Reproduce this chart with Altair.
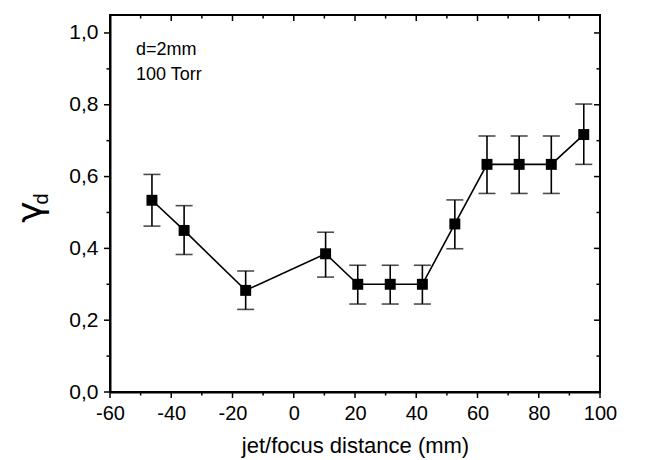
import altair as alt
import pandas as pd

# ---- data ----
x_mm = [-46.3, -35.8, -15.7, 10.4, 20.9, 31.5, 42.0, 52.6, 63.1, 73.6, 84.1, 94.7]
gamma_d = [0.534, 0.450, 0.283, 0.385, 0.300, 0.300, 0.300, 0.468, 0.634, 0.634, 0.634, 0.717]
err_hi = [0.606, 0.519, 0.337, 0.445, 0.353, 0.353, 0.353, 0.535, 0.713, 0.713, 0.713, 0.802]
err_lo = [0.462, 0.383, 0.230, 0.320, 0.245, 0.245, 0.245, 0.399, 0.553, 0.553, 0.553, 0.634]

x_ticks = [-60, -50, -40, -30, -20, -10, 0, 10, 20, 30, 40, 50, 60, 70, 80, 90, 100]
y_ticks = [0.0, 0.1, 0.2, 0.3, 0.4, 0.5, 0.6, 0.7, 0.8, 0.9, 1.0]
annotation_lines = ["d=2mm", "100 Torr"]
x_title = "jet/focus distance (mm)"
y_title_main = "γ"
y_title_sub = "d"

FONT = "Liberation Sans"
W, H = 490, 377
MAJ, MIN = 6, 3.5

df = pd.DataFrame({"x": x_mm, "y": gamma_d, "lo": err_lo, "hi": err_hi})
xt = pd.DataFrame({"t": x_ticks, "major": [v % 20 == 0 for v in x_ticks]})
yt = pd.DataFrame({"t": y_ticks, "major": [round(v * 10) % 2 == 0 for v in y_ticks]})

xscale = alt.Scale(domain=[-60, 100], nice=False, zero=False)
yscale = alt.Scale(domain=[0, 1.05], nice=False, zero=False)

x_axis = alt.Axis(
    values=x_ticks,
    labelExpr="datum.value % 20 === 0 ? '' + datum.value : ''",
    tickSize=MAJ,
    tickOpacity=0,
    labelFlush=False,
    labelOverlap=False,
    labelFontSize=20,
    labelPadding=5,
    title=x_title,
    titleFontSize=22,
    titleFontWeight="normal",
    titlePadding=12,
    grid=False,
)
y_axis = alt.Axis(
    values=y_ticks,
    labelExpr="round(datum.value * 10) % 2 === 0 ? replace(format(datum.value, '.1f'), '.', ',') : ''",
    tickSize=MAJ,
    tickOpacity=0,
    labelOverlap=False,
    labelFontSize=21,
    labelPadding=6,
    title=None,
    grid=False,
)


def X(field):
    return alt.X(field, scale=xscale, axis=x_axis, title=x_title)


def Y(field):
    return alt.Y(field, scale=yscale, axis=y_axis, title=None)


base = alt.Chart(df)

line = base.mark_line(color="black", strokeWidth=1.6).encode(x=X("x:Q"), y=Y("y:Q"))
bars = base.mark_rule(color="black", strokeWidth=1.6).encode(x=X("x:Q"), y=Y("lo:Q"), y2="hi:Q")
cap_hi = base.mark_tick(color="black", orient="horizontal", size=17, thickness=1.6).encode(
    x=X("x:Q"), y=Y("hi:Q"))
cap_lo = base.mark_tick(color="black", orient="horizontal", size=17, thickness=1.6).encode(
    x=X("x:Q"), y=Y("lo:Q"))
points = base.mark_square(color="black", size=120, opacity=1).encode(x=X("x:Q"), y=Y("y:Q"))


def xtick_layer(major, y0, y1):
    flt = "datum.major" if major else "!datum.major"
    return alt.Chart(xt).transform_filter(flt).mark_rule(color="black", strokeWidth=1.5).encode(
        x=X("t:Q"), y=alt.value(y0), y2=alt.value(y1))


def ytick_layer(major, x0, x1):
    flt = "datum.major" if major else "!datum.major"
    return alt.Chart(yt).transform_filter(flt).mark_rule(color="black", strokeWidth=1.5).encode(
        y=Y("t:Q"), x=alt.value(x0), x2=alt.value(x1))


tick_layers = [
    # bottom (outward)
    xtick_layer(True, H, H + MAJ), xtick_layer(False, H, H + MIN),
    # top (inward)
    xtick_layer(True, 0, MAJ), xtick_layer(False, 0, MIN),
    # left (outward)
    ytick_layer(True, 0, -MAJ), ytick_layer(False, 0, -MIN),
    # right (inward)
    ytick_layer(True, W, W - MAJ), ytick_layer(False, W, W - MIN),
]

ann = alt.Chart(pd.DataFrame({"label": ["\n".join(annotation_lines)]})).mark_text(
    font=FONT, fontSize=18, align="left", baseline="alphabetic", lineBreak="\n", lineHeight=25, color="black"
).encode(x=alt.value(26), y=alt.value(40), text="label:N")

ytitle_g = alt.Chart(pd.DataFrame({"t": [y_title_main]})).mark_text(
    font="DejaVu Sans", fontSize=36, angle=270, align="center", baseline="middle", color="black"
).encode(x=alt.value(-79), y=alt.value(197), text="t:N")
ytitle_d = alt.Chart(pd.DataFrame({"t": [y_title_sub]})).mark_text(
    font=FONT, fontSize=20, angle=270, align="center", baseline="middle", color="black"
).encode(x=alt.value(-68), y=alt.value(184), text="t:N")

chart = alt.layer(
    line, bars, cap_hi, cap_lo, points,
    *tick_layers,
    ann, ytitle_g, ytitle_d,
).properties(
    width=W, height=H,
    autosize=alt.AutoSizeParams(type="none"),
    padding={"left": 102, "top": 7, "right": 47, "bottom": 66},
).configure_view(
    stroke="black", strokeWidth=2
).configure_axis(
    labelFont=FONT, titleFont=FONT, labelColor="black", titleColor="black",
    domainColor="black", domainWidth=2,
)

chart.save("out.html", embed_options={"renderer": "svg", "actions": False})
